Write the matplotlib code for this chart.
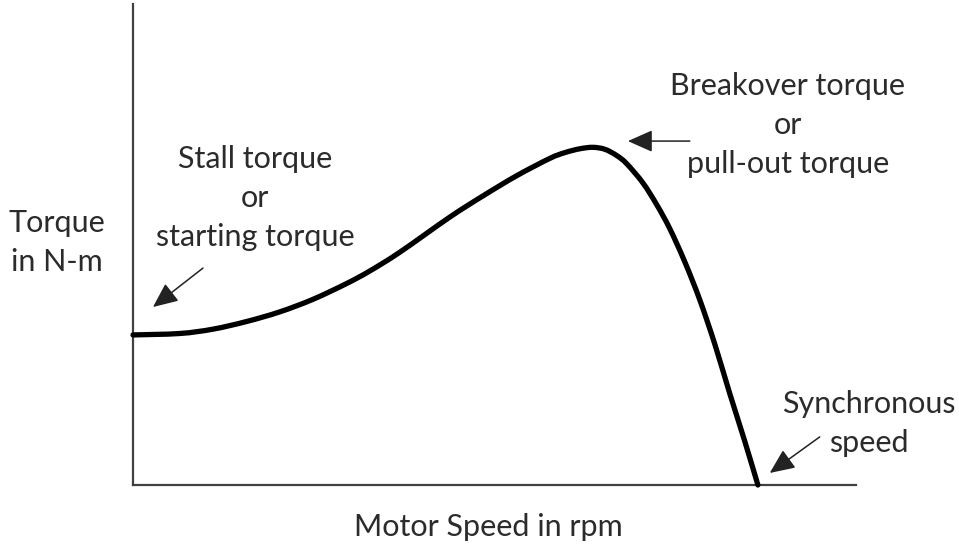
import numpy as np
import matplotlib
matplotlib.use("Agg")
import matplotlib.pyplot as plt
from matplotlib.path import Path
from matplotlib.patches import PathPatch

# Torque-speed curve, speed in % of synchronous speed, torque in arbitrary units
speed = [0.0, 7.5, 12.8, 18.2, 23.5, 28.8, 34.2, 37.9, 42.7, 50.7, 56.0, 61.4, 66.7,
         69.1, 71.5, 73.6, 75.5, 77.4, 79.0, 81.6, 83.8, 85.9, 88.3, 90.7, 93.1, 95.5,
         97.9, 100.0]
torque = [31.2, 31.5, 32.4, 34.0, 36.0, 38.6, 41.9, 44.5, 48.4, 55.7, 60.1, 64.3, 67.9,
          69.1, 69.9, 70.2, 69.8, 68.5, 66.8, 62.8, 58.3, 53.3, 46.4, 38.5, 29.3, 19.0,
          9.1, 0.0]

W, H = 959, 546
ink = "#2b2b2b"
plt.rcParams['font.family'] = ['Lato', 'DejaVu Sans']

fig = plt.figure(figsize=(W / 100, H / 100), dpi=100)
ax = fig.add_axes([133 / W, 61 / H, 723 / W, 481 / H])
ax.set_xlim(0, 115.7)
ax.set_ylim(0, 100)
for s in ["top", "right"]:
    ax.spines[s].set_visible(False)
for s in ["left", "bottom"]:
    ax.spines[s].set_color("#404040")
    ax.spines[s].set_linewidth(1.6)
ax.set_xticks([])
ax.set_yticks([])


def smooth_path(xs, ys, trans):
    # catmull-rom through the points, drawn as cubic bezier segments (display coords)
    p = trans.transform(np.column_stack([xs, ys]))
    verts, codes = [p[0]], [Path.MOVETO]
    for i in range(len(p) - 1):
        p0 = p[i - 1] if i > 0 else p[i]
        p3 = p[i + 2] if i + 2 < len(p) else p[i + 1]
        c1 = p[i] + (p[i + 1] - p0) / 6
        c2 = p[i + 1] - (p3 - p[i]) / 6
        verts += [c1, c2, p[i + 1]]
        codes += [Path.CURVE4] * 3
    return Path(verts, codes)


curve = PathPatch(smooth_path(speed, torque, ax.transData), transform=None,
                  facecolor="none", edgecolor="black", lw=3.8,
                  capstyle="round", joinstyle="round", clip_on=False, zorder=3)
fig.patches.append(curve)

arrow = dict(arrowstyle="-|>,head_length=0.9,head_width=0.4", color="#222222",
             lw=1.1, shrinkA=0, shrinkB=0, mutation_scale=17)
# stall torque
ax.annotate("", xy=(3.2, 37.0), xytext=(11.2, 45.1), arrowprops=arrow)
# breakover torque
ax.annotate("", xy=(79.2, 71.5), xytext=(89.1, 71.5), arrowprops=arrow)
# synchronous speed
ax.annotate("", xy=(101.9, 2.5), xytext=(109.9, 10.0), arrowprops=arrow)


def label(x, baselines, lines):
    for y, s in zip(baselines, lines):
        fig.text(x / W, 1 - y / H, s, ha="center", va="baseline",
                 fontsize=22, color=ink)


label(255, [168, 207, 246], ["Stall torque", "or", "starting torque"])
label(788, [95, 134, 173], ["Breakover torque", "or", "pull-out torque"])
label(869, [413, 452], ["Synchronous", "speed"])
label(57, [232, 271], ["Torque", "in N-m"])
label(488, [536], ["Motor Speed in rpm"])

fig.savefig("out.png", dpi=100)
